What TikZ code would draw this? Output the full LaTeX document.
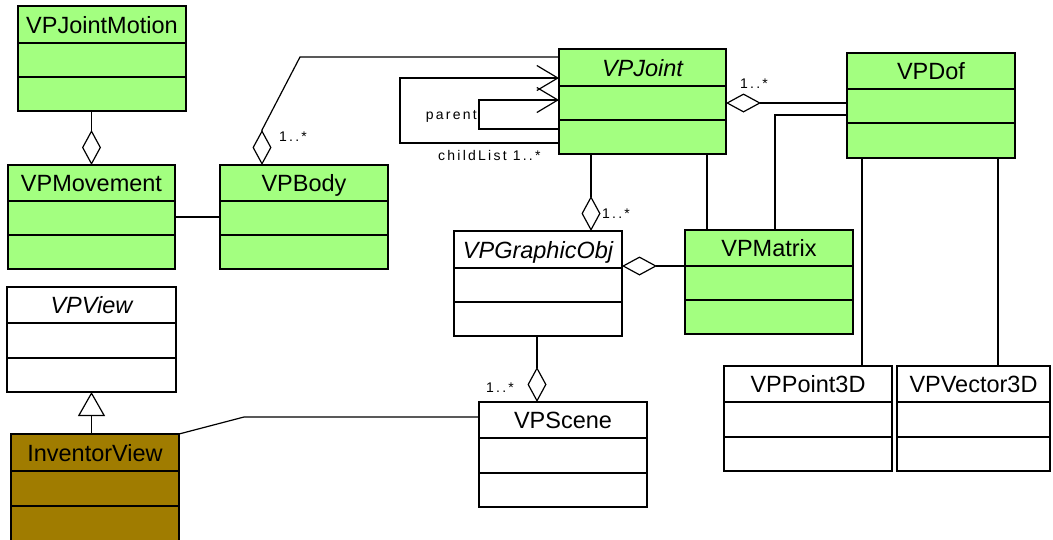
\documentclass[tikz,border=0pt]{standalone}
\usepackage{fontspec}
\setmainfont{Liberation Sans}
\usetikzlibrary{arrows.meta,calc}
\definecolor{umlgreen}{RGB}{163,255,128}
\definecolor{umlbrown}{RGB}{160,124,0}
\tikzset{
  clsbox/.style={draw=black, line width=1.6pt, inner sep=0pt, outer sep=0pt, anchor=north west},
  divline/.style={line width=1.6pt},
  titletext/.style={font=\fontsize{23.5}{28}\selectfont, inner sep=0pt, anchor=base},
  conn/.style={line width=1.2pt},
  lbl/.style={font=\fontsize{14}{17}\selectfont\addfontfeatures{LetterSpace=16}, inner sep=0pt},
  agg/.style={conn, {Diamond[open,length=35pt,width=19pt]}-},
  gen/.style={conn, {Triangle[open,length=24pt,width=27pt]}-},
  nav/.style={conn, -{Straight Barb[length=21pt,width=25pt]}},
  greenfill/.style={fill=umlgreen},
  whitefill/.style={fill=white},
  brownfill/.style={fill=umlbrown}
}
\newcommand{\umlclass}[9]{%
  \node[clsbox,#8,minimum width={#4-#2},minimum height={#5-#3}] (#1) at (#2,#3) {};
  \draw[divline] (#2,#6) -- (#4,#6) (#2,#7) -- (#4,#7);
  \node[titletext] (#1-t) at ({(#2+#4)/2},{(#3+#6)/2+8.5}) {#9};
}
\begin{document}
\begin{tikzpicture}[x=1pt,y=-1pt]
\useasboundingbox[fill=white] (0,0) rectangle (1053,539);
% classes
\umlclass{jm}{18}{6}{186}{111}{43}{77}{greenfill}{VPJointMotion}
\umlclass{mv}{8}{165}{175}{269}{201}{235}{greenfill}{VPMovement}
\umlclass{vb}{220}{165}{388}{269}{201}{235}{greenfill}{VPBody}
\umlclass{vj}{559}{49}{726}{154}{86}{120}{greenfill}{\itshape VPJoint}
\umlclass{vd}{847}{53}{1015}{158}{89}{123}{greenfill}{VPDof}
\umlclass{go}{454}{231}{622}{336}{268}{302}{whitefill}{\itshape VPGraphicObj}
\umlclass{vm}{685}{230}{853}{334}{266}{300}{greenfill}{VPMatrix}
\umlclass{vv}{7}{287}{176}{392}{323}{358}{whitefill}{\itshape VPView}
\umlclass{iv}{11}{434}{179}{546}{471}{506}{brownfill}{InventorView}
\umlclass{vs}{479}{402}{647}{507}{438}{473}{whitefill}{VPScene}
\umlclass{vp}{724}{366}{892}{471}{402}{437}{whitefill}{VPPoint3D}
\umlclass{vr}{897}{366}{1050}{471}{402}{437}{whitefill}{VPVector3D}

% helper coordinates
\coordinate (bd) at ($(vb.north west)+(42,0)$);
\coordinate (bdt) at ($(vb.north west)+(42,-35)$);
\coordinate (bk) at (300,57);
\coordinate (jm1) at ($(vm.north west)+(22,0)$);
\coordinate (dm1) at ($(vm.north west)+(90,0)$);
\coordinate (g1) at ($(go.north west)+(137,0)$);
\coordinate (s1) at ($(vs.north west)+(58,0)$);
\coordinate (p1) at ($(vp.north west)+(138,0)$);
\coordinate (r1) at ($(vr.north west)+(101,0)$);
\coordinate (ik) at (244,417);

% connectors
\draw[agg] (mv.north) -- (mv.north |- jm.south);
\draw[conn] (mv.east |- 0,217) -- (vb.west |- 0,217);
\draw[agg] (bd) -- (bdt) -- (bk) -- (vj.west |- bk);
\draw[nav] (vj.west |- 0,143) -- (400,143) -- (400,78) -- (vj.west |- 0,78);
\draw[nav] (vj.west |- 0,129) -- (479,129) -- (479,100) -- (vj.west |- 0,100);
\draw[agg] (vj.east |- 0,103) -- (vd.west |- 0,103);
\draw[conn] (vd.west |- 0,115) -| (dm1);
\draw[conn] (jm1) -- (jm1 |- vj.south);
\draw[agg] (g1) -- (g1 |- vj.south);
\draw[agg] (go.east |- 0,266) -- (vm.west |- 0,266);
\draw[agg] (s1) -- (s1 |- go.south);
\draw[conn] (p1) -- (p1 |- vd.south);
\draw[conn] (r1) -- (r1 |- vd.south);
\draw[gen] (vv.south) -- (vv.south |- iv.north);
\draw[conn] (iv.north east) -- (ik) -- (vs.west |- ik);

% labels
\node[lbl, anchor=base west] (l1) at (279,141) {1..*};
\node[lbl, anchor=base east] (l2) at (477,119) {parent};
\node[lbl, anchor=base west] (l3) at (438,160) {childList 1..*};
\node[lbl, anchor=base west] (l4) at (740,88) {1..*};
\node[lbl, anchor=base west] (l5) at (602,218) {1..*};
\node[lbl, anchor=base west] (l6) at (486,392) {1..*};
\end{tikzpicture}
\end{document}
